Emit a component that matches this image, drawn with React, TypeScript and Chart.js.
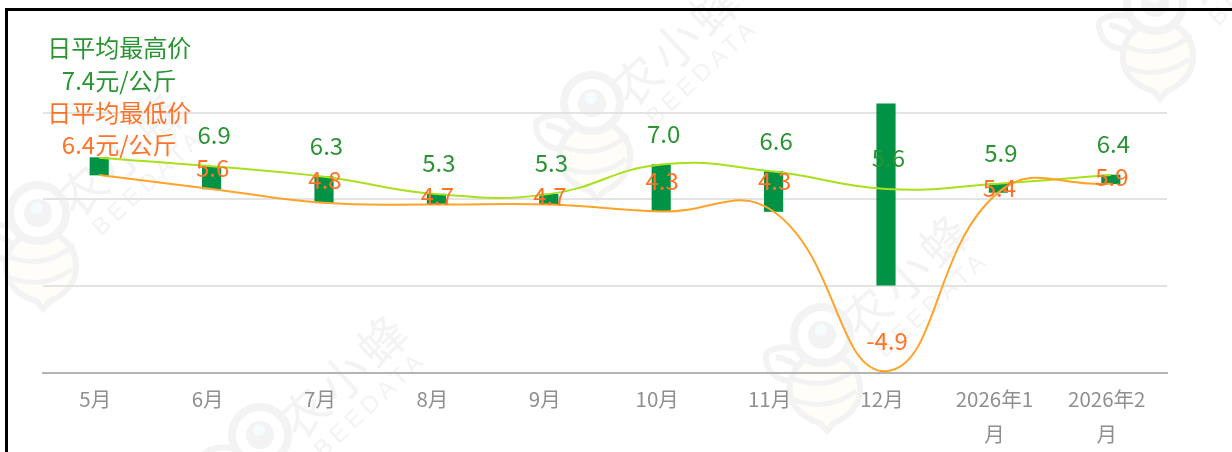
import React, { useEffect, useRef } from "react";
import { Chart, registerables } from "chart.js";

Chart.register(...registerables);

const categories = ["5月", "6月", "7月", "8月", "9月", "10月", "11月", "12月", ["2026年1", "月"], ["2026年2", "月"]];
const highValues = [7.4, 6.9, 6.3, 5.3, 5.3, 7.0, 6.6, 5.6, 5.9, 6.4];
const lowValues = [6.4, 5.6, 4.8, 4.7, 4.7, 4.3, 4.3, -4.9, 5.4, 5.9];
const highTitle = "日平均最高价";
const lowTitle = "日平均最低价";
const unit = "元/公斤";
const axisTicks = [-5, 0, 5, 10];

// label placement relative to each point, in pixels
const lowLabelLift = [0, 21, 23, 9, 9, 31, 31, 30, 5, 7];
const highLabelLift = 31;
const labelFont = '24px "Noto Sans CJK SC"';
const GREEN_TEXT = "#2a9433";
const ORANGE_TEXT = "#ff7227";

const watermarkHeads = [
  [38, 213],
  [592, 103],
  [1155, 3],
  [260, 435],
  [822, 335],
];

function drawBee(ctx: CanvasRenderingContext2D, x: number, y: number) {
  const line = "#f3f3f3";
  ctx.save();
  ctx.translate(x, y);
  ctx.lineWidth = 6;
  ctx.strokeStyle = line;
  // wing
  ctx.fillStyle = "#fcfcfc";
  ctx.beginPath();
  ctx.moveTo(-24, 14);
  ctx.bezierCurveTo(-40, 10, -58, 14, -56, 24);
  ctx.bezierCurveTo(-54, 42, -36, 50, -22, 44);
  ctx.stroke();
  ctx.beginPath();
  ctx.moveTo(-46, 22);
  ctx.quadraticCurveTo(-34, 24, -24, 32);
  ctx.stroke();
  // body
  ctx.fillStyle = "#fffdf7";
  ctx.beginPath();
  ctx.moveTo(3, 16);
  ctx.bezierCurveTo(30, 22, 40, 40, 38, 58);
  ctx.bezierCurveTo(36, 74, 22, 84, 12, 88);
  ctx.lineTo(5, 96);
  ctx.lineTo(-2, 88);
  ctx.bezierCurveTo(-16, 84, -30, 74, -32, 58);
  ctx.bezierCurveTo(-34, 40, -24, 22, 3, 16);
  ctx.fill();
  ctx.stroke();
  ctx.lineWidth = 5;
  ctx.beginPath();
  ctx.moveTo(-30, 43);
  ctx.quadraticCurveTo(5, 58, 36, 32);
  ctx.stroke();
  ctx.beginPath();
  ctx.moveTo(-30, 64);
  ctx.quadraticCurveTo(5, 78, 34, 56);
  ctx.stroke();
  // head
  ctx.fillStyle = "#ffffff";
  ctx.lineWidth = 8;
  ctx.beginPath();
  ctx.arc(0, 0, 28, 0, Math.PI * 2);
  ctx.fill();
  ctx.stroke();
  ctx.fillStyle = line;
  ctx.beginPath();
  ctx.arc(0, 0, 14, 0, Math.PI * 2);
  ctx.fill();
  ctx.fillStyle = "#f6fbfe";
  ctx.beginPath();
  ctx.arc(-1, -5, 6, 0, Math.PI * 2);
  ctx.fill();
  ctx.restore();

  const spaced = (text: string, cx: number, cy: number, font: string, gap: string) => {
    ctx.save();
    ctx.translate(x + cx, y + cy);
    ctx.rotate((-43 * Math.PI) / 180);
    ctx.font = font;
    (ctx as any).letterSpacing = gap;
    ctx.fillStyle = line;
    ctx.textAlign = "center";
    ctx.textBaseline = "middle";
    ctx.fillText(text, 0, 0);
    ctx.restore();
  };
  spaced("农小蜂", 85, -60, '48px "Noto Sans CJK SC"', "5px");
  spaced("BEEDATA", 111, -30, '24px "Liberation Sans"', "5px");
}

const watermarkPlugin = {
  id: "watermark",
  beforeDraw(chart: any) {
    const { ctx } = chart;
    watermarkHeads.forEach(([x, y]) => drawBee(ctx, x, y));
  },
};

const valueLabelPlugin = {
  id: "valueLabels",
  afterDraw(chart: any) {
    const { ctx, scales } = chart;
    const x = scales.x;
    const y = scales.y;
    ctx.save();
    ctx.font = labelFont;
    ctx.textAlign = "center";
    ctx.textBaseline = "middle";
    categories.forEach((_, i) => {
      if (i === 0) return;
      const cx = x.getPixelForValue(i);
      ctx.fillStyle = GREEN_TEXT;
      ctx.fillText(highValues[i].toFixed(1), cx + 2.5, y.getPixelForValue(highValues[i]) - highLabelLift);
      ctx.fillStyle = ORANGE_TEXT;
      ctx.fillText(lowValues[i].toFixed(1), cx + 1, y.getPixelForValue(lowValues[i]) - lowLabelLift[i]);
    });
    // first point labels carry the series name
    const firstX = x.getPixelForValue(0) + 20;
    const topHigh = y.getPixelForValue(highValues[0]) - 110;
    ctx.fillStyle = GREEN_TEXT;
    ctx.fillText(highTitle, firstX, topHigh);
    ctx.fillText(highValues[0].toFixed(1) + unit, firstX, topHigh + 33);
    ctx.fillStyle = ORANGE_TEXT;
    ctx.fillText(lowTitle, firstX, topHigh + 65);
    ctx.fillText(lowValues[0].toFixed(1) + unit, firstX, topHigh + 97);
    ctx.restore();
  },
};

export default function App() {
  const ref = useRef<HTMLCanvasElement>(null);
  useEffect(() => {
    if (!ref.current) return;
    const ranges = highValues.map((h, i) => (lowValues[i] < 0 ? [0, h - lowValues[i]] : [lowValues[i], h]));
    const chart = new Chart(ref.current, {
      type: "bar",
      data: {
        labels: categories as any,
        datasets: [
          {
            type: "bar",
            data: ranges as any,
            backgroundColor: "#009345",
            barThickness: 18.5,
            clip: false as any,
            order: 3,
          },
          {
            type: "line",
            data: highValues,
            borderColor: "#a9e01c",
            borderWidth: 2,
            pointRadius: 0,
            tension: 0.45,
            order: 2,
          },
          {
            type: "line",
            data: lowValues,
            borderColor: "#ffa329",
            borderWidth: 2,
            pointRadius: 0,
            tension: 0.45,
            order: 1,
          },
        ],
      },
      options: {
        responsive: false,
        animation: false,
        devicePixelRatio: 1,
        layout: { padding: { left: 43, right: 65, top: 112.5, bottom: 0 } },
        plugins: { legend: { display: false }, tooltip: { enabled: false }, title: { display: false } },
        scales: {
          x: {
            grid: { display: false },
            border: { color: "#b4b4b4", width: 2 },
            ticks: {
              color: "#8f8f8f",
              font: { family: '"Noto Sans CJK SC"', size: 20.5, lineHeight: 1.7 },
              maxRotation: 0,
              minRotation: 0,
              autoSkip: false,
              labelOffset: -4,
              padding: 1,
            },
            afterFit: (s: any) => {
              s.height = 79;
            },
          },
          y: {
            min: axisTicks[0],
            max: axisTicks[axisTicks.length - 1],
            afterBuildTicks: (s: any) => {
              s.ticks = axisTicks.map((value) => ({ value }));
            },
            grid: { color: "#e3e3e3", lineWidth: 2, drawTicks: false },
            border: { display: false },
            ticks: { display: false },
            afterFit: (s: any) => {
              s.width = 0;
            },
          },
        },
      },
      plugins: [watermarkPlugin, valueLabelPlugin],
    } as any);
    return () => chart.destroy();
  }, []);
  return (
    <div style={{ position: "absolute", left: 0, top: 0, width: 1232, height: 452, overflow: "hidden", background: "#fff" }}>
      <canvas
        ref={ref}
        width={1232}
        height={452}
        style={{ position: "absolute", left: 0, top: 0, display: "block", filter: "blur(0.5px)" }}
      />
      <div style={{ position: "absolute", left: 5, top: 8, right: 0, height: 3, background: "#000" }} />
      <div style={{ position: "absolute", left: 5, top: 8, bottom: 0, width: 3, background: "#000" }} />
    </div>
  );
}
